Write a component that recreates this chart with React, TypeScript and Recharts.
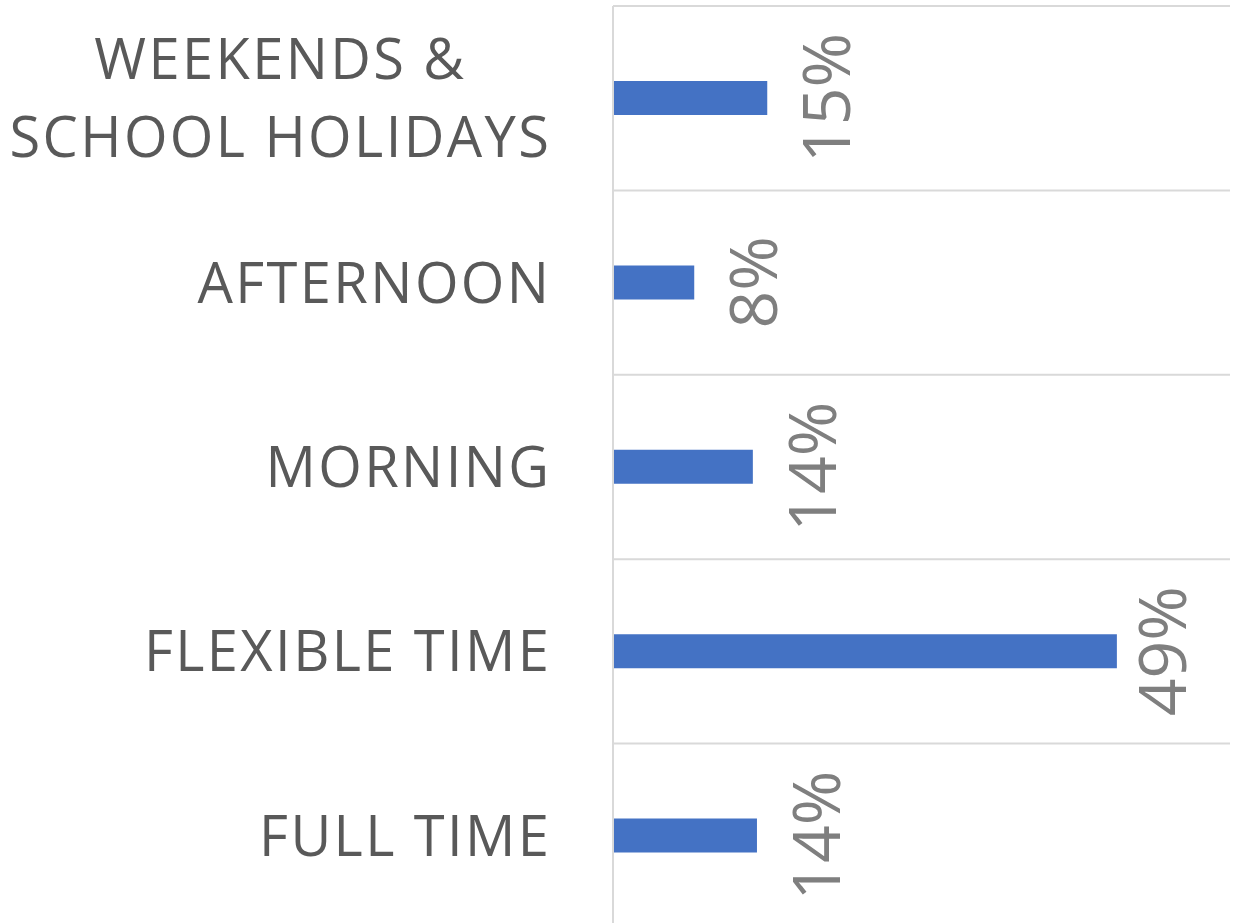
import React from 'react';
import { BarChart, Bar, XAxis, YAxis, CartesianGrid } from 'recharts';

const categories = ['WEEKENDS & SCHOOL HOLIDAYS', 'AFTERNOON', 'MORNING', 'FLEXIBLE TIME', 'FULL TIME'];
const shares = [15.0, 7.9, 13.6, 49.0, 14.0];
const axisMax = 60;

const data = categories.map((c, i) => ({ category: c, share: shares[i] }));

const W = 1237;
const H = 928;
const MARGIN = { top: 6, right: 7, bottom: 0, left: 0 };
const Y_AXIS_W = 613;
const CAT_FONT = 56;
const CAT_SPACING = 2.4;
const CAT_GAP = 64;
const CAT_LINE = 78;
const CAT_WRAP = 550;
const LABEL_FONT = 66;
const FONT = '"Open Sans", sans-serif';

let ctx: CanvasRenderingContext2D | null = null;
function measure(s: string): number {
  if (!ctx) ctx = document.createElement('canvas').getContext('2d');
  if (!ctx) return s.length * CAT_FONT * 0.6;
  ctx.font = `${CAT_FONT}px "Open Sans"`;
  return ctx.measureText(s).width + CAT_SPACING * s.length;
}

function wrap(s: string): string[] {
  const words = s.split(' ');
  const lines: string[] = [];
  let cur = '';
  for (const w of words) {
    const next = cur ? cur + ' ' + w : w;
    if (cur && measure(next) > CAT_WRAP) {
      lines.push(cur);
      cur = w;
    } else cur = next;
  }
  if (cur) lines.push(cur);
  return lines;
}

function CategoryTick(props: any) {
  const { x, y, payload } = props;
  const lines = wrap(String(payload.value));
  const blockW = Math.max(...lines.map(measure));
  const right = x - CAT_GAP + CAT_SPACING;
  const cx = right - blockW / 2;
  const capH = CAT_FONT * 0.714;
  return (
    <g>
      {lines.map((ln, i) => (
        <text
          key={i}
          x={cx}
          y={y + capH / 2 + (i - (lines.length - 1) / 2) * CAT_LINE}
          textAnchor="middle"
          fill="#595959"
          fontSize={CAT_FONT}
          fontFamily={FONT}
          letterSpacing={CAT_SPACING}
        >
          {ln}
        </text>
      ))}
    </g>
  );
}

function ValueLabel(props: any) {
  const vb = props.viewBox && props.viewBox.width != null ? props.viewBox : props;
  const { x, y, width, height } = vb;
  const value = props.value;
  if (x == null || value == null) return null;
  const capH = LABEL_FONT * 0.714;
  const end = x + width;
  const plotRight = W - MARGIN.right;
  const bx = Math.min(end + 36 + capH, plotRight - 44);
  const cy = y + height / 2;
  return (
    <text
      transform={`translate(${bx},${cy}) rotate(-90)`}
      textAnchor="middle"
      fill="#7f7f7f"
      fontSize={LABEL_FONT}
      fontFamily={FONT}
    >
      {`${Math.round(Number(value))}%`}
    </text>
  );
}

export default function App() {
  const n = categories.length;
  return (
    <div style={{ width: 1237, height: 923, overflow: 'hidden', background: '#fff' }}>
      <style>{`html,body{margin:0;padding:0;overflow:hidden;background:#fff}`}</style>
      <BarChart width={W} height={H} data={data} layout="vertical" margin={MARGIN}>
        <CartesianGrid
          vertical={false}
          stroke="#d9d9d9"
          strokeWidth={2}
          horizontalCoordinatesGenerator={(args: any) => {
            const off = args && args.offset;
            const top = off ? off.top : MARGIN.top;
            const h = off ? off.height : H - MARGIN.top - MARGIN.bottom;
            return Array.from({ length: n + 1 }, (_, i) => top + (i * h) / n);
          }}
        />
        <XAxis type="number" domain={[0, axisMax]} hide />
        <YAxis
          type="category"
          dataKey="category"
          width={Y_AXIS_W}
          tickLine={false}
          tickSize={0}
          tickMargin={0}
          interval={0}
          axisLine={{ stroke: '#d9d9d9', strokeWidth: 2 }}
          tick={<CategoryTick />}
        />
        <Bar dataKey="share" fill="#4472C4" barSize={34} isAnimationActive={false} label={<ValueLabel />} />
      </BarChart>
    </div>
  );
}
